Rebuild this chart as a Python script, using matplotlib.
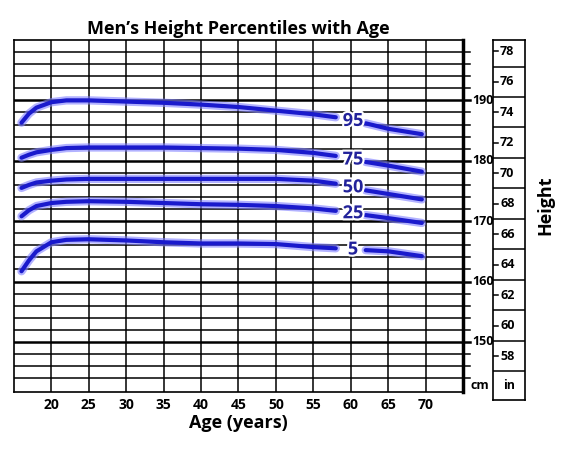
import matplotlib.pyplot as plt
import matplotlib.patheffects as pe
import numpy as np

plt.rcParams['font.family'] = ['Open Sans', 'DejaVu Sans']
plt.rcParams['font.weight'] = 'bold'

ages = [16, 17, 18, 20, 22, 25, 30, 35, 40, 45, 50, 55, 58, 62, 65, 69.5]
percentiles = ["95", "75", "50", "25", "5"]
heights = {
    "95": [186.3, 187.8, 188.8, 189.7, 190.0, 190.0, 189.8, 189.6, 189.3, 188.9, 188.3, 187.7, 187.2, 186.2, 185.3, 184.4],
    "75": [180.5, 181.0, 181.4, 181.8, 182.1, 182.2, 182.2, 182.2, 182.1, 182.0, 181.8, 181.3, 180.8, 179.8, 179.2, 178.2],
    "50": [175.5, 176.0, 176.4, 176.7, 176.9, 177.0, 177.0, 177.0, 177.0, 177.0, 177.0, 176.7, 176.2, 175.1, 174.5, 173.6],
    "25": [170.8, 171.8, 172.5, 173.0, 173.2, 173.3, 173.2, 173.0, 172.8, 172.7, 172.5, 172.1, 171.7, 171.0, 170.5, 169.7],
    "5":  [161.7, 163.5, 165.0, 166.5, 166.9, 167.0, 166.8, 166.5, 166.3, 166.3, 166.2, 165.7, 165.5, 165.2, 165.0, 164.2],
}
label_age = 60.3
label_height = {"95": 186.6, "75": 180.2, "50": 175.6, "25": 171.3, "5": 165.3}
x_ticks = [20, 25, 30, 35, 40, 45, 50, 55, 60, 65, 70]
cm_labels = [150, 160, 170, 180, 190]
in_labels = [58, 60, 62, 64, 66, 68, 70, 72, 74, 76, 78]

W, H = 573, 450
fig = plt.figure(figsize=(W / 100, H / 100), dpi=100)
ymin, ymax = 141.7, 200
ax = fig.add_axes([14 / W, 1 - 392 / H, (463 - 14) / W, (392 - 40) / H])
ax.set_xlim(15, 75)
ax.set_ylim(ymin, ymax)

for y in np.arange(144, 200, 2):
    lw = 1.8 if y % 10 == 0 else 1.1
    ax.axhline(y, color='black', lw=lw, zorder=1)
    ax.plot([75, 76], [y, y], color='black', lw=lw, clip_on=False)
for x in range(20, 75, 5):
    ax.axvline(x, color='black', lw=1.1, zorder=1)
for s in ax.spines.values():
    s.set_linewidth(1.2)
ax.spines['right'].set_linewidth(2.5)

ax.set_xticks(x_ticks)
ax.set_xticklabels([str(t) for t in x_ticks], fontsize=10, fontweight='bold')
ax.tick_params(axis='x', length=0, pad=4)
ax.set_yticks([])
for c in cm_labels:
    ax.text(76.2, c, str(c), fontsize=9, fontweight='bold', va='center', ha='left')
ax.text(77.2, 142.8, "cm", fontsize=9, fontweight='bold', va='center', ha='center')

ages_a = np.array(ages)
for p in percentiles:
    h = np.array(heights[p])
    for mask in [ages_a <= 58, ages_a >= 62]:
        ax.plot(ages_a[mask], h[mask], color='#8080ff', lw=6, alpha=0.6,
                solid_capstyle='round', zorder=3)
        ax.plot(ages_a[mask], h[mask], color='#1a1acc', lw=3,
                solid_capstyle='round', zorder=4)
    ax.text(label_age, label_height[p], p, fontsize=13, fontweight='bold',
            color='#22229a', ha='center', va='center', zorder=5,
            path_effects=[pe.withStroke(linewidth=3, foreground='white')])

ax.set_title("Men\u2019s Height Percentiles with Age", fontsize=13, fontweight='bold', pad=4)
ax.set_xlabel("Age (years)", fontsize=13, fontweight='bold', labelpad=2)

in_bottom = ymax - (400 - 40) / 6
ax2 = fig.add_axes([493 / W, 1 - 400 / H, (525 - 493) / W, (400 - 40) / H])
ax2.set_xlim(0, 1)
ax2.set_ylim(in_bottom / 2.54, ymax / 2.54)
ax2.set_xticks([])
ax2.set_yticks([])
for s in ax2.spines.values():
    s.set_linewidth(1.2)
for y in range(57, 79, 2):
    ax2.axhline(y, color='black', lw=1.1)
for v in in_labels:
    ax2.plot([0, 0.15], [v, v], color='black', lw=1.1)
    ax2.text(0.22, v, str(v), fontsize=9, fontweight='bold', va='center', ha='left')
ax2.text(0.5, 56.1, "in", fontsize=9, fontweight='bold', va='center', ha='center')

fig.text(545 / W, 1 - 205 / H, "Height", rotation=90, fontsize=13,
         fontweight='bold', ha='center', va='center')

fig.savefig("out.png", dpi=100)
